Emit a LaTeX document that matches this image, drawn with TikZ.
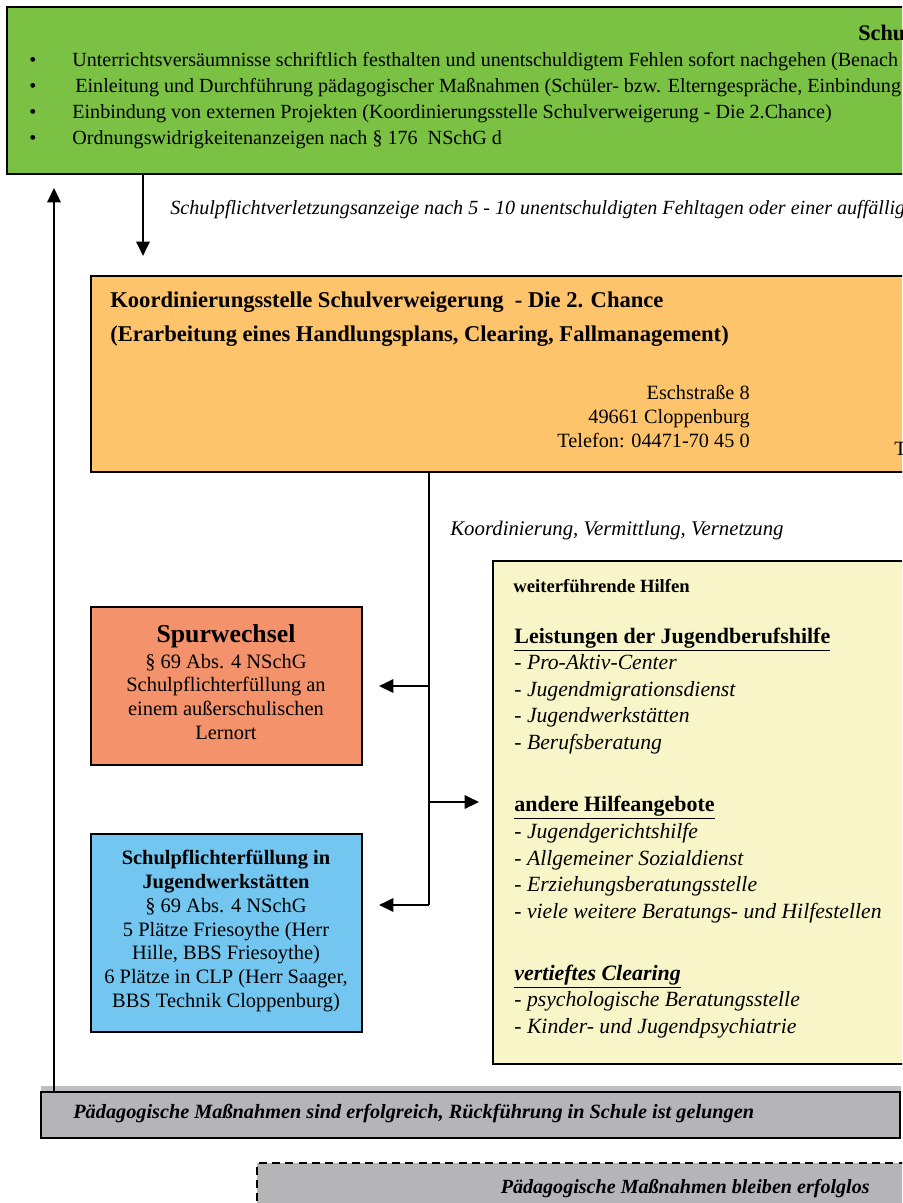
\documentclass[tikz,border=0pt]{standalone}
\usepackage{fontspec}
\setmainfont{Liberation Serif}
\usetikzlibrary{arrows.meta, positioning, fit}

\definecolor{gruen}{HTML}{7BC143}
\definecolor{orangefill}{HTML}{FDC46C}
\definecolor{lachs}{HTML}{F4926B}
\definecolor{hellblau}{HTML}{72C6EF}
\definecolor{hellgelb}{HTML}{F8F6C8}
\definecolor{grau}{HTML}{B5B5B7}

\newcommand{\gruenschrift}{\fontsize{11.3}{14.6}\selectfont}
\newcommand{\normalschrift}{\fontsize{11.4}{13.5}\selectfont}
\newcommand{\kastenschrift}{\fontsize{11.5}{13.3}\selectfont}
\newcommand{\listenschrift}{\fontsize{12.2}{14.9}\selectfont}

\tikzset{
  box/.style={draw, line width=1.2pt, inner sep=0pt},
  pfeil/.style={-{Triangle[length=8pt, width=7.5pt]}, line width=1.1pt},
  txt/.style={inner sep=0pt, anchor=base west},
}

\begin{document}
\begin{tikzpicture}[x=0.5625pt, y=-0.5625pt]
\useasboundingbox (0,0) rectangle (902,1203);
\clip (0,0) rectangle (902,1203);

% Kaesten
\node[box, fill=gruen, fit={(7,7) (1000,174)}] (schule) {};
\node[box, fill=orangefill, fit={(91,276) (1000,472)}] (koord) {};
\node[box, fill=lachs, fit={(91,607) (362,765)}] (spur) {};
\node[box, fill=hellblau, fit={(91,834) (362,1032)}] (werk) {};
\node[box, fill=hellgelb, fit={(493,561) (1000,1064)}] (hilfen) {};
\fill[grau!85] (41,1086) rectangle (901,1094);
\node[box, fill=grau, fit={(41,1092) (900,1138)}] (erfolg) {};
\node[box, dashed, dash pattern=on 4.5pt off 3pt, fill=grau, fit={(257,1163) (1000,1300)}] (erfolglos) {};

% Schule (Grundlinie = letzte Zeile)
\node[txt, font=\bfseries\fontsize{12.5}{14}\selectfont] (schultitel) at (858,40) {Schu};
\node[txt, font=\gruenschrift, align=left] (punkte) at (29,144) {\textbullet\\\textbullet\\\textbullet\\\textbullet};
\node[txt, font=\gruenschrift, align=left] (massnahmen) at (72,144)
  {Unterrichtsversäumnisse schriftlich festhalten und unentschuldigtem Fehlen sofort nachgehen (Benach\\
   \hspace*{1.7pt}Einleitung und Durchführung pädagogischer Maßnahmen (Schüler- bzw. Elterngespräche, Einbindung\\
   Einbindung von externen Projekten (Koordinierungsstelle Schulverweigerung - Die 2.Chance)\\
   Ordnungswidrigkeitenanzeigen nach § 176\ \ NSchG d};

% Koordinierungsstelle
\node[txt, font=\bfseries\fontsize{12.7}{18.6}\selectfont, align=left] (koordtitel) at (110,341)
  {Koordinierungsstelle Schulverweigerung\ \ - Die 2. Chance\\
   (Erarbeitung eines Handlungsplans, Clearing, Fallmanagement)};
\node[inner sep=0pt, anchor=base east, font=\normalschrift, align=right] (adresse) at (750,447)
  {Eschstraße 8\\49661 Cloppenburg\\Telefon: 04471-70 45 0};
\node[txt, font=\normalschrift] (telefon) at (894,455) {T};

% Spurwechsel
\node[inner sep=0pt, anchor=base, font=\bfseries\fontsize{14.5}{16}\selectfont] (spurtitel) at (226,642) {Spurwechsel};
\node[inner sep=0pt, anchor=base, font=\kastenschrift, align=center] (spurtext) at (226,739)
  {§ 69 Abs. 4 NSchG\\Schulpflichterfüllung an\\einem außerschulischen\\Lernort};

% Jugendwerkstaetten
\node[inner sep=0pt, anchor=base, font=\bfseries\kastenschrift, align=center] (werktitel) at (226,888)
  {Schulpflichterfüllung in\\Jugendwerkstätten};
\node[inner sep=0pt, anchor=base, font=\kastenschrift, align=center] (werktext) at (226,1007)
  {§ 69 Abs. 4 NSchG\\5 Plätze Friesoythe (Herr\\Hille, BBS Friesoythe)\\6 Plätze in CLP (Herr Saager,\\BBS Technik Cloppenburg)};

% weiterfuehrende Hilfen
\node[txt, font=\bfseries\fontsize{10.5}{12}\selectfont] (hilfentitel) at (513,592) {weiterführende Hilfen};
\node[txt, font=\bfseries\fontsize{12.35}{14}\selectfont] (jbhtitel) at (514,643) {\underline{Leistungen der Jugendberufshilfe}};
\node[txt, font=\itshape\listenschrift, align=left] (jbh) at (514,749)
  {- Pro-Aktiv-Center\\- Jugendmigrationsdienst\\- Jugendwerkstätten\\- Berufsberatung};
\node[txt, font=\bfseries\fontsize{12.35}{14}\selectfont] (anderetitel) at (514,811) {\underline{andere Hilfeangebote}};
\node[txt, font=\itshape\listenschrift, align=left] (andere) at (514,918)
  {- Jugendgerichtshilfe\\- Allgemeiner Sozialdienst\\- Erziehungsberatungsstelle\\- viele weitere Beratungs- und Hilfestellen};
\node[txt, font=\bfseries\itshape\fontsize{12.35}{14}\selectfont] (clearingtitel) at (514,980) {\underline{vertieftes Clearing}};
\node[txt, font=\itshape\listenschrift, align=left] (clearing) at (514,1033)
  {- psychologische Beratungsstelle\\- Kinder- und Jugendpsychiatrie};

% Ergebnisse
\node[txt, font=\bfseries\itshape\fontsize{11.4}{13}\selectfont] (erfolgtext) at (73,1118)
  {Pädagogische Maßnahmen sind erfolgreich, Rückführung in Schule ist gelungen};
\node[inner sep=0pt, anchor=base east, font=\bfseries\itshape\fontsize{11.3}{13}\selectfont] (erfolglostext) at (870,1193)
  {Pädagogische Maßnahmen bleiben erfolglos};

% Verbindungen
\coordinate (meldung) at (143,0);
\coordinate (rueck) at (54,0);
\coordinate (abzweig) at (429,802);
\coordinate (verteiler) at (429,905);
\draw[pfeil, shorten >=10.7pt] (schule.south -| meldung) -- (koord.north -| meldung);
\draw[pfeil, shorten >=7.3pt] (erfolg.north -| rueck) -- (schule.south -| rueck);
\draw[line width=1.1pt] (koord.south -| verteiler) -- (verteiler);
\draw[pfeil, shorten >=9pt] (spur.east -| verteiler) -- (spur.east);
\draw[pfeil, shorten >=7.3pt] (abzweig) -- (abzweig -| hilfen.west);
\draw[pfeil, shorten >=9pt] (verteiler) -- (verteiler -| werk.east);

% Beschriftungen
\node[txt, font=\itshape\fontsize{11.3}{13}\selectfont] (anzeige) at (170,214)
  {Schulpflichtverletzungsanzeige nach 5 - 10 unentschuldigten Fehltagen oder einer auffällig};
\node[txt, font=\itshape\fontsize{11.7}{13}\selectfont] (vernetzung) at (450,535)
  {Koordinierung, Vermittlung, Vernetzung};
\end{tikzpicture}
\end{document}
